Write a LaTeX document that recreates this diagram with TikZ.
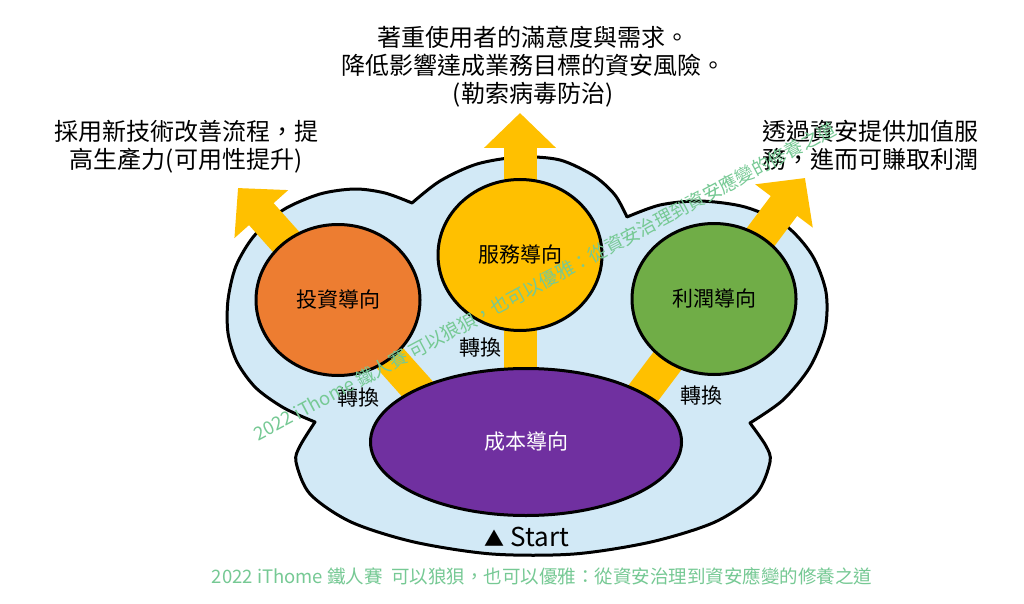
\documentclass[tikz,border=0pt]{standalone}
\usepackage{fontspec}
\setmainfont{Noto Sans CJK TC}
\usetikzlibrary{arrows.meta,shapes.geometric,calc,backgrounds}
\definecolor{cloudbg}{RGB}{210,233,246}
\definecolor{invest}{RGB}{237,125,49}
\definecolor{service}{RGB}{255,192,0}
\definecolor{profit}{RGB}{112,173,71}
\definecolor{cost}{RGB}{112,48,160}
\definecolor{wmark}{RGB}{118,201,148}

\begin{document}
\begin{tikzpicture}[x=1pt,y=-1pt,
    orb/.style={ellipse,draw=black,line width=3pt,inner sep=0pt,
                minimum width=164pt,minimum height=151pt,
                font=\fontsize{21}{25}\selectfont},
    lbl/.style={font=\fontsize{21}{25}\selectfont},
    note/.style={align=center,font=\fontsize{24}{28}\selectfont},
    cloudbody/.style={draw=black,fill=cloudbg,line width=3pt,line join=round},
    flow/.style={service,line width=33pt,-{Triangle[length=35pt,width=70pt]}},
    wm/.style={text=wmark,font=\fontsize{18.5}{22}\selectfont}]
  \useasboundingbox (0,0) rectangle (1024,604);

  \node[orb,fill=invest] (invest) at (338,300) {投資導向};
  \node[orb,fill=service] (serv) at (520,255) {服務導向};
  \node[orb,fill=profit] (prof) at (714,299) {利潤導向};
  \node[orb,fill=cost,text=white,minimum width=311pt,minimum height=147pt]
    (cost) at (526,442) {成本導向};

  \node[lbl] (cvL) at (358,398) {轉換};
  \node[lbl] (cvM) at (480,348) {轉換};
  \node[lbl] (cvR) at (701,396) {轉換};
  \node[font=\fontsize{26}{30}\selectfont] (start) at (527,537)
    {{\fontsize{20}{20}\selectfont ▲} Start};

  \coordinate (tipL) at (238,188);
  \coordinate (tipM) at (520,113);
  \coordinate (tipR) at (805,178);

  \node[note] (goalM) at (533,66.5)
    {著重使用者的滿意度與需求。\\降低影響達成業務目標的資安風險。\\(勒索病毒防治)};
  \node[note] (goalL) at (186,146.5) {採用新技術改善流程，提\\高生產力(可用性提升)};
  \node[note] (goalR) at (870,145) {透過資安提供加值服\\務，進而可賺取利潤};

  \node[wm,rotate=28] (stamp) at (545,281)
    {2022 iThome 鐵人賽 可以狼狽，也可以優雅：從資安治理到資安應變的修養之道};
  \node[wm] (credit) at (542,576)
    {2022 iThome 鐵人賽\ \ 可以狼狽，也可以優雅：從資安治理到資安應變的修養之道};

  \begin{scope}[on background layer]
    \fill[white] (0,0) rectangle (1024,604);
    % cloud outline: four lobes meeting in notches
    \draw[cloudbody]
      plot[smooth] coordinates {(315,422) (284,408) (256,388) (237,362) (228,333)
        (228,300) (236,266) (254,236) (283,210) (320,194) (355,189) (385,193) (412,203)}
      -- plot[smooth] coordinates {(412,203) (440,181) (477,164) (520,157)
        (560,160) (594,176) (615,195) (627,217)}
      -- plot[smooth] coordinates {(627,217) (660,205) (700,201) (745,207) (785,225)
        (812,255) (826,292) (825,330) (810,367) (783,400) (750,423)}
      -- plot[smooth] coordinates {(750,423) (766,446) (770,462) (756,494) (715,522)
        (651,542) (574,554) (492,554) (414,542) (351,522) (310,494) (296,462)
        (300,446) (315,422)}
      -- cycle;
    \draw[flow] ($(invest)!-1!(tipL)$) -- (tipL);
    \draw[flow] (serv.center |- cost.center) -- (tipM);
    \draw[flow] ($(prof)!-1!(tipR)$) -- (tipR);
  \end{scope}
\end{tikzpicture}
\end{document}
